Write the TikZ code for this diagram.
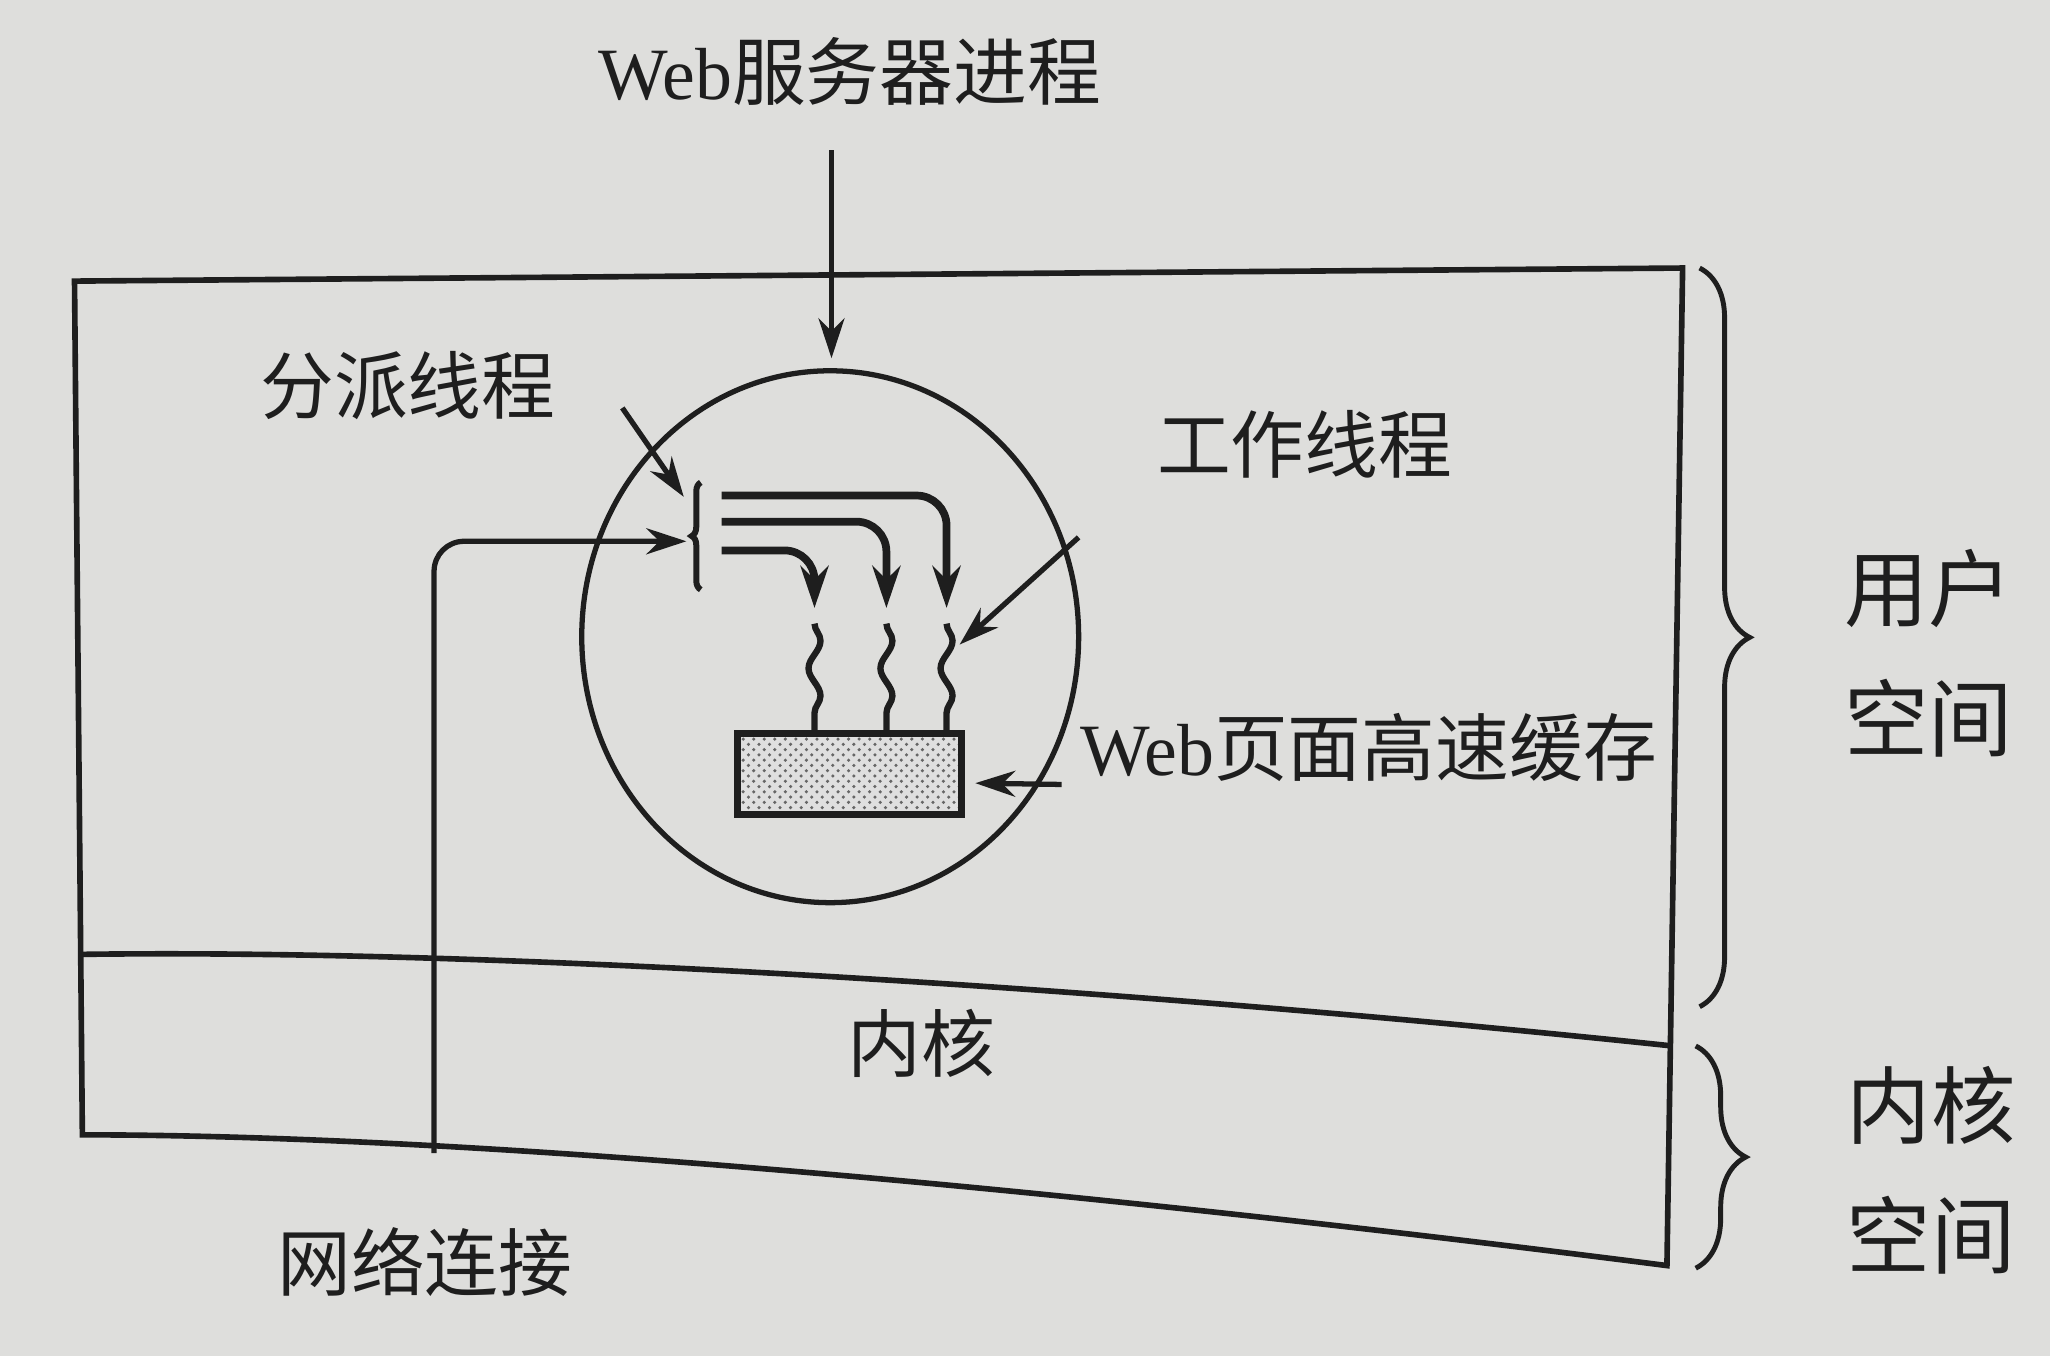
\documentclass[tikz,border=0pt]{standalone}
\usepackage{fontspec}
\setmainfont{Liberation Serif}
\newfontfamily\cjk{Noto Sans CJK SC}
\usepackage{tikz}
\usetikzlibrary{positioning, shapes.geometric, arrows.meta, patterns, decorations.pathmorphing, decorations.pathreplacing}

\definecolor{paper}{RGB}{222,222,220}
\definecolor{ink}{RGB}{30,30,30}
\newcommand{\zh}[1]{{\cjk #1}}

\begin{document}
\begin{tikzpicture}[
    x=0.013074cm, y=-0.013074cm,
    label_text/.style={font=\fontsize{21pt}{25pt}\selectfont, text=ink, inner sep=0pt},
    side_text/.style={font=\fontsize{24pt}{37pt}\selectfont, text=ink, inner sep=0pt, align=center},
    frame_line/.style={draw=ink, line width=1.6pt},
    arrow_style/.style={draw=ink, line width=1.5pt, -{Stealth[length=4mm, width=2.6mm]}},
    thread_arrow/.style={draw=ink, line width=2.2pt, rounded corners=0.3cm, -{Stealth[length=4.2mm, width=2.8mm]}},
    wavy_line/.style={draw=ink, line width=1.8pt, decorate, decoration={snake, segment length=0.55cm, amplitude=0.06cm}},
    proc_circ/.style={ellipse, draw=ink, line width=1.5pt, minimum width=4.97cm, minimum height=5.32cm},
    cache_box/.style={rectangle, draw=ink, preaction={fill=gray!25}, pattern=crosshatch dots, pattern color=gray!80!black, line width=2pt, minimum width=2.24cm, minimum height=0.81cm},
    disp_brace/.style={draw=ink, line width=1.7pt, decorate, decoration={brace, amplitude=0.09cm}},
    side_brace/.style={draw=ink, line width=1.4pt, decorate, decoration={brace, amplitude=0.5cm}}
]

% paper and picture size
\fill[paper] (0,0) rectangle (1568,1037);
\useasboundingbox (0,0) rectangle (1568,1037);

% outer box with user part and kernel part
\draw[frame_line] (57,215) -- (1287,205) -- (1275,968) .. controls (900,920) and (400,868) .. (63,868) -- cycle;
\draw[frame_line] (60,730) .. controls (400,725) and (900,760) .. (1279,800);

% labels
\node[label_text] (server) at (650,55) {Web\zh{服务器进程}};
\node[label_text] (disp_lbl) at (312,295) {\zh{分派线程}};
\node[label_text] (work_lbl) at (998,340) {\zh{工作线程}};
\node[label_text] (cache_lbl) at (1047,572) {Web\zh{页面高速缓存}};
\node[label_text] (kern_lbl) at (705,798) {\zh{内核}};
\node[label_text] (net_lbl) at (325,965) {\zh{网络连接}};
\node[side_text] (user_sp) at (1475,500) {\zh{用户}\\\zh{空间}};
\node[side_text] (kern_sp) at (1477,895) {\zh{内核}\\\zh{空间}};

% web server process and page cache
\node[proc_circ] (proc) at (635,487) {};
\node[cache_box] (cache) at (649.5,592) {};

% arrow ends
\coordinate (srv_from) at (636,115);
\coordinate (srv_to) at (636,274);
\coordinate (dl_from) at (476,312);
\coordinate (dl_to) at (523,380);
\coordinate (wl_from) at (825,411);
\coordinate (wl_to) at (734,493);
\coordinate (cl_from) at (812,600);
\coordinate (cl_to) at (746,599);
\coordinate (net_from) at (332,882);
\coordinate (net_to) at (525,414);

% dispatcher
\coordinate (disp_top) at (536,369);
\coordinate (disp_bot) at (536,451);
\draw[disp_brace] (disp_bot) -- (disp_top);

% worker threads
\coordinate (w1_s) at (552,379);
\coordinate (w1_e) at (724,465);
\coordinate (w2_s) at (552,399);
\coordinate (w2_e) at (678,465);
\coordinate (w3_s) at (552,421);
\coordinate (w3_e) at (623,465);
\coordinate (v1) at (724,477);
\coordinate (v2) at (678,477);
\coordinate (v3) at (623,477);

\draw[thread_arrow] (w1_s) -| (w1_e);
\draw[thread_arrow] (w2_s) -| (w2_e);
\draw[thread_arrow] (w3_s) -| (w3_e);
\draw[wavy_line] (v1) -- (v1 |- cache.north);
\draw[wavy_line] (v2) -- (v2 |- cache.north);
\draw[wavy_line] (v3) -- (v3 |- cache.north);

% pointer arrows
\draw[arrow_style] (srv_from) -- (srv_to);
\draw[arrow_style] (dl_from) -- (dl_to);
\draw[arrow_style] (wl_from) -- (wl_to);
\draw[arrow_style] (cl_from) -- (cl_to);
\draw[arrow_style, rounded corners=0.3cm] (net_from) |- (net_to);

% braces at the right
\coordinate (ub_top) at (1300,205);
\coordinate (ub_bot) at (1300,770);
\coordinate (kb_top) at (1297,800);
\coordinate (kb_bot) at (1297,970);
\draw[side_brace] (ub_top) -- (ub_bot);
\draw[side_brace] (kb_top) -- (kb_bot);

\end{tikzpicture}
\end{document}
